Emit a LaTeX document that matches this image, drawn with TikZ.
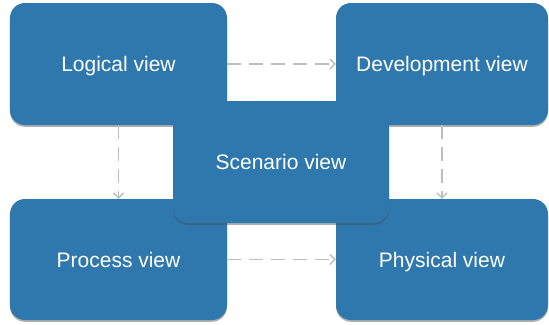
\documentclass[tikz,border=0pt]{standalone}
\usepackage{fontspec}
\setmainfont{Liberation Sans}
\usetikzlibrary{arrows.meta,shadows}
\definecolor{viewblue}{RGB}{47,120,173}
\definecolor{arrowgray}{RGB}{190,190,190}
\tikzset{
  viewbox/.style={draw=none, fill=viewblue, rounded corners=15bp, text=white,
    font=\fontsize{21bp}{24bp}\selectfont, inner sep=0pt,
    text height=15bp, text depth=0pt,
    drop shadow={shadow xshift=0bp, shadow yshift=-1.8bp, opacity=0.45, fill=black!70}},
  flow/.style={draw=arrowgray, line width=1.6bp, dash pattern=on 14bp off 8bp,
    -{Straight Barb[length=5bp, width=10bp, line width=1.4bp]}}
}
\begin{document}
\begin{tikzpicture}[x=1bp, y=-1bp]
\useasboundingbox (0,0) rectangle (549,324);
\node[viewbox, minimum width=217bp, minimum height=122bp] (L) at (118.5,64) {Logical view};
\node[viewbox, minimum width=212bp, minimum height=122bp] (D) at (442,64) {Development view};
\node[viewbox, minimum width=217bp, minimum height=121bp] (P) at (118.5,259.5) {Process view};
\node[viewbox, minimum width=212bp, minimum height=121bp] (Ph) at (442,259.5) {Physical view};
\node[viewbox, minimum width=216bp, minimum height=122bp] (S) at (281,162) {Scenario view};
\draw[flow] (L.east) -- (D.west);
\draw[flow] (L.south) -- (P.north);
\draw[flow] (D.south) -- (Ph.north);
\draw[flow] (P.east) -- (Ph.west);
\end{tikzpicture}
\end{document}
